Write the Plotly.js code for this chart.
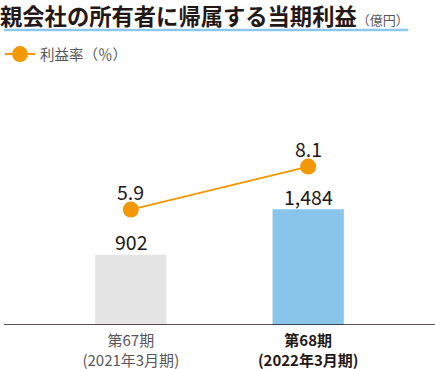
<!DOCTYPE html>
<html><head><meta charset="utf-8">
<script src="https://cdn.plot.ly/plotly-3.0.1.min.js"></script>
<style>html,body{margin:0;padding:0;background:#fff}#c{width:435px;height:369px}</style>
</head><body><div id="c"></div>
<script>
const categories = [0, 1];
const tickLabels = [
  '<span style="color:#595757">第67期<br>(2021年3月期)</span>',
  '<b>第68期<br>(2022年3月期)</b>'
];
const profit = [902, 1484];
const profitLabels = ['902', '1,484'];
const margin = [5.9, 8.1];
const marginLabels = ['5.9', '8.1'];
const barColors = ['#e5e5e5', '#89c4eb'];

const FONT = '"Noto Sans CJK JP", "Noto Sans", sans-serif';
const TXT = '#231815';

const traces = [
  {type: 'bar', x: categories, y: profit, width: 0.402, marker: {color: barColors},
   showlegend: false, hoverinfo: 'skip'},
  {type: 'scatter', mode: 'lines+markers', x: categories, y: margin, yaxis: 'y2',
   name: '利益率（％）', line: {color: '#f39800', width: 2},
   marker: {color: '#f39800', size: 16}, hoverinfo: 'skip'}
];

const annotations = [];
categories.forEach((c, i) => {
  annotations.push({x: c, y: profit[i], xref: 'x', yref: 'y', text: profitLabels[i],
    showarrow: false, yanchor: 'middle', yshift: 13, font: {size: 19.5, color: TXT, family: FONT}});
  annotations.push({x: c, y: margin[i], xref: 'x', yref: 'y2', text: marginLabels[i],
    showarrow: false, yanchor: 'middle', yshift: 18, font: {size: 19.5, color: TXT, family: FONT}});
});

const layout = {
  width: 435, height: 369,
  margin: {l: 0, r: 0, t: 70, b: 44, pad: 0},
  paper_bgcolor: '#fff', plot_bgcolor: '#fff',
  font: {family: FONT, color: TXT},
  title: {
    text: '<b>親会社の所有者に帰属する当期利益</b><span style="font-size:13px;color:#595757">（億円）</span>',
    x: 0, xref: 'container', xanchor: 'left', y: 1 - 17.5/369, yref: 'container', yanchor: 'middle',
    pad: {l: 0, r: 0, t: 0, b: 0},
    font: {size: 22.3, color: TXT, family: FONT}
  },
  xaxis: {range: [-0.715, 1.715], tickvals: categories, ticktext: tickLabels,
    showgrid: false, zeroline: false, showline: false, ticks: '', ticklabelstandoff: 5,
    tickfont: {size: 15, color: TXT, family: FONT}, fixedrange: true},
  yaxis: {range: [0, 3270], visible: false, fixedrange: true},
  yaxis2: {range: [0, 13.04], overlaying: 'y', visible: false, fixedrange: true},
  showlegend: true,
  legend: {x: -0.01, xanchor: 'left', y: 1.125, yanchor: 'top', bgcolor: 'rgba(0,0,0,0)',
    font: {size: 14.5, color: '#595757', family: FONT}, itemwidth: 30, tracegroupgap: 0},
  shapes: [
    {type: 'line', xref: 'paper', yref: 'paper', x0: 0, x1: 408/435, y0: 1.157, y1: 1.157,
     line: {color: '#8cc7ec', width: 2.5}},
    {type: 'line', xref: 'paper', yref: 'y', x0: 0, x1: 1, y0: 0, y1: 0,
     line: {color: TXT, width: 1.5}}
  ],
  annotations: annotations
};

Plotly.newPlot('c', traces, layout, {displayModeBar: false, staticPlot: true});
</script></body></html>
